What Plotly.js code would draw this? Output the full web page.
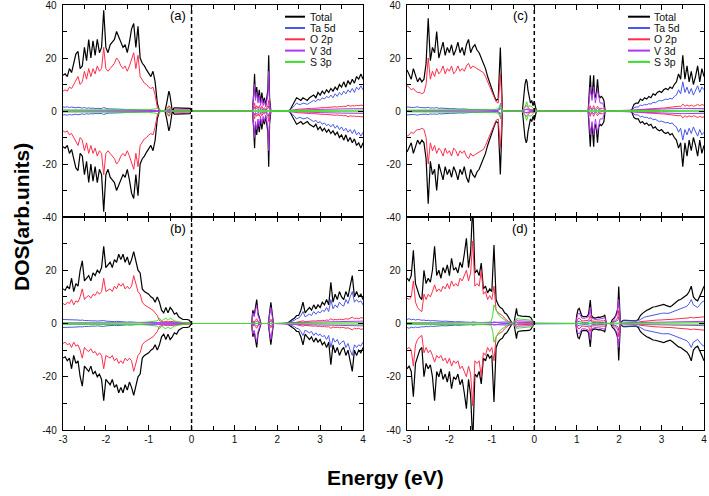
<!DOCTYPE html>
<html><head><meta charset="utf-8">
<script src="https://cdn.plot.ly/plotly-3.0.1.min.js"></script>
<style>html,body{margin:0;padding:0;background:#fff}#chart{width:709px;height:496px}</style>
</head><body><div id="chart"></div>
<script>
// ---------- shared energy grids (eV) ----------
const eVB = [-3,-2.95,-2.9,-2.85,-2.8,-2.75,-2.7,-2.65,-2.6,-2.55,-2.5,-2.45,-2.4,-2.35,-2.3,-2.25,-2.2,-2.15,-2.1,-2.05,-2,-1.95,-1.9,-1.85,-1.8,-1.75,-1.7,-1.65,-1.6,-1.55,-1.5,-1.45,-1.4,-1.35,-1.3,-1.25,-1.2,-1.15,-1.1,-1.05,-1,-0.95,-0.9,-0.85,-0.8,-0.75];
const eCB = [2.2,2.25,2.3,2.35,2.4,2.45,2.5,2.55,2.6,2.65,2.7,2.75,2.8,2.85,2.9,2.95,3,3.05,3.1,3.15,3.2,3.25,3.3,3.35,3.4,3.45,3.5,3.55,3.6,3.65,3.7,3.75,3.8,3.85,3.9,3.95,4];

const seriesNames = ['Total','Ta 5d','O 2p','V 3d','S 3p'];
const panelLabels = ['(a)','(b)','(c)','(d)'];
const xTickVals = [-3,-2,-1,0,1,2,3,4];
const xTickText = ['-3','-2','-1','0','1','2','3','4'];
const yTickValsTop = [-40,-20,0,20,40];
const yTickTextTop = ['-40','-20','0','20','40'];
const yTickValsBot = [-40,-20,0,20];
const yTickTextBot = ['-40','-20','0','20'];

// ---------- panel (a) ----------
const a_vbTotal = [13.5,14,13,16,14.5,18,21.5,22.5,16,17,24,19,27,20,26.5,21,27,22,24,38,24,22,25,26,27,30,28,26,24,25,22,26,31,33,24,32,20,18,17,15.5,14,13,15,11,3,0];
const a_vbTa = [1.5,1.4,1.6,1.3,1.5,1.3,1.2,1.4,1.2,1.1,1.3,1.0,1.2,1.0,1.1,0.9,1.0,0.9,0.9,1.3,0.9,0.8,0.8,0.8,0.7,0.7,0.8,0.6,0.6,0.6,0.5,0.5,0.6,0.5,0.4,0.4,0.4,0.3,0.3,0.3,0.3,0.2,0.2,0.3,0.1,0];
const a_vbO = [7.5,8,7.5,9,8.5,10,12,13,10,11,15,12,16,13,16,14,17,15,16,24,16,15,16,17,18,20,19,17,16,17,15,17,20,22,16,21,13,11.5,10.5,10,9,8.5,9,6,1.5,0];
const a_gapE = [-0.7,-0.62,-0.58,-0.555,-0.53,-0.505,-0.48,-0.45,-0.43,-0.42,-0.40,-0.05,-0.03,-0.02,0.05,1.42,1.45,1.47,1.49,1.52,1.55,1.58,1.61,1.64,1.67,1.70,1.73,1.76,1.78,1.80,1.82,1.85,2.15];
const a_gapTotal = [0,0,3,6,7.5,6,3,0,0,1,1.2,1.2,1,0,0,0,7,14,5,9,4,8,3,7,3,5,2,5,8,21,5,0,0];
const a_gapTa = [0,0,0.3,0.5,0.6,0.5,0.3,0,0,0.1,0.1,0.1,0.1,0,0,0,0.8,1.5,0.6,1,0.5,0.9,0.4,0.8,0.4,0.6,0.3,0.6,0.9,2,0.5,0,0];
const a_gapO = [0,0,0.8,1.5,2,1.5,0.8,0,0,0.3,0.4,0.4,0.3,0,0,0,1.5,3,1,2,1,2,0.8,1.8,0.8,1.2,0.5,1.2,2,4,1,0,0];
const a_cbTotal = [0,0,0.5,2,4,5,4.5,4,5,4.5,4,5,5.5,6,5,7,6,7.5,6.5,8,7,8.5,7.5,9,8,10,9,11,9,11.5,10,12,10.5,13,12,14,12];
const a_cbTa = [0,0,0.3,1,2,3,2.5,2.5,3,2.8,2.5,3,3.5,4,3.5,4.5,4,5,4.5,5.5,5,6,5,6.5,5.5,7,6,7.5,6.5,8,7,8.5,7,9,8,9.5,8];
const a_cbO = [0,0,0.1,0.3,0.5,0.6,0.7,0.7,0.8,0.8,0.9,0.9,1,1,1.1,1.1,1.2,1.2,1.3,1.3,1.4,1.4,1.5,1.6,1.5,1.7,1.6,1.8,1.7,2.2,1.8,2,1.9,2.1,2,2.2,2.1];
const a_vE = [-3,-2,-1,-0.8,-0.55,-0.53,-0.5,-0.4,-0.05,0,1.42,1.45,1.47,1.49,1.52,1.55,1.58,1.61,1.64,1.67,1.70,1.73,1.76,1.78,1.80,1.82,1.85,2.3,2.6,3.0,3.5,4.0];
const a_vY = [0.3,0.3,0.2,0.2,0,0.5,0,0.3,0.3,0,0,5,10,4,7,3,6,2,5,2,4,1.5,4,6,15,3,0,0.3,0.5,0.6,0.8,0.9];
const a_sE = [-3,-2.5,-2,-1.5,-1.2,-1,-0.85,-0.78,-0.75,-0.72,-0.6,-0.55,-0.53,-0.51,-0.45,0,1.45,1.8,2.3,3,4];
const a_sY = [0.3,0.3,0.3,0.3,0.4,0.5,0.8,1.2,0.8,0.2,0,0.8,1.5,0.8,0,0,0.1,0.2,0,0.2,0.3];

// ---------- panel (b) ----------
const b_vbTotal = [13,12.5,14,13,17,12,15,14,20,23.5,16,17,18,16,19,18,20,19,21,29,21,22,23,21,24,23,26,24,26,23,25,22,24,27,24,20,19,13,12,11.5,11,10,9.5,8,10,8];
const b_vbTa = [1.5,1.5,1.4,1.5,1.3,1.4,1.3,1.3,1.2,1.3,1.1,1.2,1.1,1.0,1.1,1.0,0.9,1.0,0.9,1.1,0.9,0.8,0.9,0.8,0.7,0.8,0.7,0.6,0.7,0.6,0.5,0.6,0.5,0.5,0.4,0.4,0.4,0.3,0.3,0.3,0.3,0.2,0.3,0.2,0.2,0.2];
const b_vbO = [7.5,7,8,7.5,9,7,8.5,8,10,13,9,10,10.5,9.5,11,10.5,12,11,12,17,12,12.5,13,12,14,13,15,14,15,13,14,13,14,18,15,12,11,8,7,6.5,6,5.5,5,4,3,1];
const b_gapE = [-0.7,-0.65,-0.6,-0.55,-0.5,-0.45,-0.4,-0.35,-0.3,-0.25,-0.2,-0.15,-0.1,-0.05,0,0.05,1.40,1.43,1.46,1.49,1.52,1.55,1.58,1.62,1.79,1.82,1.85,1.88,1.91,2.15];
const b_gapTotal = [5,4,6,4,6,5,3.5,4,2.5,2,1.5,1.5,1.5,1.2,0,0,0,5,3,6,9,4,2,0,0,4,8,4,0,0];
const b_gapTa = [0.2,0.2,0.3,0.2,0.3,0.2,0.2,0.2,0.1,0.1,0.1,0.1,0.1,0.1,0,0,0,0.5,0.3,0.6,0.9,0.4,0.2,0,0,0.4,0.8,0.4,0,0];
const b_gapO = [0.8,0.6,0.8,0.6,0.8,0.7,0.5,0.5,0.4,0.3,0.3,0.3,0.3,0.2,0,0,0,1,0.6,1.2,1.8,0.8,0.4,0,0,0.8,1.6,0.8,0,0];
const b_cbTotal = [0,0.3,1,1.5,2,3,3,5,8,4,5,6,5,7,5.5,7,6,8,7,9,7,15.5,8,11,9,12,10,9,12,10,14,18,10,12,10,11,9];
const b_cbTa = [0,0.2,0.5,0.8,1.2,1.8,2,3,4.5,2.5,3,3.5,3,4.5,3.5,4.5,4,5,4.5,6,4.5,9,5.5,7,6,8,7,6.5,9,7.5,10,12,8,9,8,8.5,7];
const b_cbO = [0,0,0.1,0.2,0.3,0.5,0.5,0.7,1,0.7,0.8,0.9,0.8,1,0.9,1.1,1,1.2,1.1,1.3,1.2,1.8,1.3,1.5,1.4,1.6,1.5,1.5,1.8,1.6,2,2.4,1.8,2,1.8,2.2,2];
const b_vE = [-3,-2,-1,-0.7,-0.4,0,1.40,1.43,1.46,1.49,1.52,1.55,1.58,1.62,1.79,1.82,1.85,1.88,1.91,2.3,3,4];
const b_vY = [0.2,0.2,0.2,0.3,0.3,0,0,4,2.5,5,7,3,1.5,0,0,3,6,3,0,0.3,0.6,0.9];
const b_sE = [-3,-2,-1.2,-1,-0.8,-0.75,-0.7,-0.65,-0.6,-0.55,-0.5,-0.45,-0.4,-0.3,-0.1,0,2,3,4];
const b_sY = [0.3,0.3,0.4,0.6,1,2,1,1.5,2,1.2,2,1.5,1,0.6,0.3,0,0,0.2,0.3];

// ---------- panel (c) ----------
const c_vbTotal = [15.5,14,12,16,13,11,12.5,11,12,18,35,19,24,22,30,20,23,26,21,24,22,25,21,23,26,22,24,21,25,27,22,24,25,23,22,20,18,16,13,10.5,8.5,6,4,4.5,24,0];
const c_vbTa = [1.5,1.4,1.5,1.3,1.4,1.6,1.3,1.2,1.3,1.2,1.4,1.1,1.2,1.1,1.3,1.0,1.1,1.0,0.9,1.0,0.9,0.9,0.8,0.9,0.8,0.7,0.8,0.7,0.6,0.7,0.6,0.5,0.6,0.5,0.5,0.4,0.4,0.4,0.3,0.3,0.3,0.2,0.2,0.2,1,0];
const c_vbO = [9.5,9,8,8.5,7.5,7,7,6.5,7,10,20,12,15,13,16,14,15,17,14,16,15,17,14,15,17,15,16,15,17,18,16,17,16.5,16,15.5,15,14.5,13,11,9.5,7.5,5.5,3.5,3,14,0];
const c_gapE = [-0.7,-0.28,-0.25,-0.22,-0.19,-0.17,-0.15,-0.12,-0.09,-0.06,-0.03,0,0.02,0.05,1.27,1.30,1.32,1.34,1.36,1.38,1.40,1.42,1.44,1.47,1.49,1.52,1.55,1.58,1.61,1.64,1.67,2.15];
const c_gapTotal = [0,0,5,10,12,11,8,5,3,4,2,3.5,2,0,0,8,13.5,7,5,9,13.5,6,5,8,12,6,5,5.5,5,4,0,0];
const c_gapTa = [0,0,0.3,0.5,0.6,0.5,0.4,0.3,0.2,0.2,0.1,0.2,0.1,0,0,0.6,1,0.5,0.4,0.7,1,0.5,0.4,0.6,0.9,0.5,0.4,0.5,0.4,0.3,0,0];
const c_gapO = [0,0,0.8,1.5,2,1.8,1.2,0.8,0.5,0.6,0.4,0.6,0.3,0,0,1.2,2,1,0.8,1.3,2,1,0.8,1.2,1.8,1,1,1.1,1,0.8,0,0];
const c_cbTotal = [0,0,0.5,2.5,3,3,4.5,4,5,4.5,5.5,5,6.5,6,7,7.5,7,8,8.5,8,9,8.5,10,11,14,12,21,12,17,11,15,10,13,17,11,16,13];
const c_cbTa = [0,0,0.3,1.2,1.5,1.5,2.2,2,2.5,2.3,2.8,2.6,3.3,3.1,3.6,4,3.8,4.3,4.5,4.3,4.8,4.5,5.5,6,8,6.5,11,7,9,6.5,8.5,6,7.5,9.5,7,9,8];
const c_cbO = [0,0,0.1,0.3,0.4,0.5,0.6,0.6,0.7,0.7,0.8,0.8,0.9,0.9,1,1,1.1,1.1,1.2,1.2,1.3,1.3,1.4,1.5,1.8,1.6,2.6,1.8,2.3,1.8,2.2,1.8,2,2.5,2,2.4,2.2];
const c_vE = [-3,-1.5,-0.9,-0.82,-0.79,-0.76,-0.3,-0.17,-0.1,0,1.27,1.30,1.32,1.36,1.40,1.44,1.49,1.55,1.61,1.67,2.3,3,3.5,4];
const c_vY = [0.2,0.2,0.3,0.5,3,0,0,0.8,0.3,0,0,5,9,4,9,3,8,3,3,0,0.3,0.6,1,0.9];
const c_sE = [-3,-2,-1.2,-1,-0.85,-0.8,-0.75,-0.3,-0.22,-0.18,-0.14,-0.1,-0.05,0,0.05,2,3,4];
const c_sY = [0.3,0.3,0.4,0.5,0.8,2.5,0,0,1.5,3.5,1.5,2,1.5,0.5,0,0,0.2,0.3];

// ---------- panel (d) ----------
const d_vbTotal = [17,16,18,27.5,15,12,10,9,20,15,17,15.5,20,29,18,20,17,21,19,22,18,24.5,20,21,19,23,21,26,32,21,27,45,19,20,18,22.7,13,14,11.5,13,12,29.5,9,7,6,5.5];
const d_vbTa = [1.5,1.8,1.4,1.6,1.3,1.5,1.4,1.2,1.3,1.1,1.2,1.0,1.1,1.0,0.9,1.0,0.9,0.8,0.9,0.8,0.7,0.8,0.7,0.6,0.7,0.6,0.5,0.6,0.5,0.5,0.4,0.6,0.4,0.4,0.4,0.4,0.3,0.3,0.3,0.3,0.3,0.6,0.3,0.3,0.2,0.2];
const d_vbO = [9.5,9,10,16,8,6,5,4.5,11,9,11,10,12,14.5,12,13,12,14,13,15,13,16,14,15,14,17,16,18,20,16,19,31,14,15,14,20,11,12,9,10.5,9,14,5,4,3.5,3];
const d_gapE = [-0.70,-0.65,-0.60,-0.55,-0.52,-0.48,-0.46,-0.44,-0.42,-0.40,-0.38,-0.30,-0.20,-0.12,-0.08,-0.04,0,0.05,0.98,1.00,1.03,1.06,1.09,1.12,1.16,1.20,1.24,1.28,1.30,1.32,1.35,1.39,1.43,1.47,1.51,1.55,1.59,1.62,1.64,1.66,1.68,1.70,1.80,1.84,1.88,1.92,1.95,1.97,1.99,2.01,2.03,2.06,2.10,2.15];
const d_gapTotal = [4,3.5,2,0.5,0,0,2,4,5.7,3.5,3,2.8,2.8,2.6,2.2,1.2,0,0,0,3,5.2,5.7,4,2.8,2.6,2.6,2.7,3.5,6,8.8,3,2.2,2,2.3,2.4,2.3,2.4,2.6,2.8,3.2,2,0,0,1.5,2,3,4.5,6,13.9,3,0,0.8,1.2,1.2];
const d_gapTa = [0.3,0.2,0.1,0.05,0,0,0.1,0.2,0.3,0.2,0.2,0.2,0.2,0.2,0.1,0.1,0,0,0,0.4,0.8,0.9,0.6,0.4,0.4,0.4,0.4,0.5,0.9,1.3,0.5,0.3,0.3,0.3,0.4,0.3,0.4,0.4,0.4,0.5,0.3,0,0,0.3,0.4,0.6,0.9,1.2,2.5,0.6,0,0.7,1,1];
const d_gapO = [2,1.2,0.6,0.2,0,0,0.3,0.6,0.8,0.5,0.5,0.4,0.4,0.4,0.3,0.2,0,0,0,1,1.8,2,1.5,1,1,1,1,1.2,2,3,1,0.8,0.8,0.9,0.9,0.9,0.9,1,1,1.2,0.8,0,0,0.6,0.8,1.2,1.8,2.5,5,1,0,0.1,0.2,0.2];
const d_cbTotal = [1.2,1.2,1.2,1.2,1,1.5,3,3.8,4.5,5,5.3,5.8,6.2,6.3,6.5,6.8,7,7.2,6.8,6.5,6.3,6.8,7.5,8.2,8.8,9,9.5,10,10.8,12,14,10,9,8.5,10,12,14];
const d_cbTa = [1,1,1,1,0.8,1,1.5,2,2.4,2.6,2.8,3,3.2,3.4,3.5,3.6,3.8,3.9,3.8,3.8,4,4.3,4.7,5,5.2,5.4,5.7,6,6.5,7.5,9,7,6.5,6,7,8,8.5];
const d_cbO = [0.2,0.2,0.2,0.2,0.2,0.4,0.7,0.8,0.9,1,1.1,1.1,1.2,1.2,1.3,1.3,1.4,1.4,1.4,1.5,1.5,1.6,1.6,1.7,1.8,1.8,1.9,2,2,2.1,2.3,2.1,2.2,2.2,2.3,2.4,2.5];
const d_vE = [-3,-1.5,-1,-0.8,-0.6,-0.48,-0.44,-0.42,-0.38,-0.2,-0.08,0,0.98,1.00,1.03,1.06,1.09,1.12,1.2,1.28,1.30,1.32,1.35,1.43,1.55,1.62,1.66,1.70,1.80,1.88,1.95,1.99,2.03,2.3,3,4];
const d_vY = [0.2,0.2,0.3,0.5,0.6,0,1,1.5,1,0.9,0.8,0,0,2,3.5,4,3,2,2,2.5,4,6,2,1.5,1.7,1.9,2.4,0,0,1.5,3.5,9,0,0.3,0.5,0.8];
const d_sE = [-3,-2,-1.2,-1.02,-0.98,-0.95,-0.9,-0.85,-0.8,-0.72,-0.65,-0.57,-0.5,-0.46,-0.42,-0.3,-0.15,-0.05,0,1,2,2.3,3,4];
const d_sY = [0.3,0.3,0.4,0.6,3,7,5,3.5,2.5,1.5,0.8,0,0,1,1.8,1.6,1.5,1.2,0,0,0,0.1,0.2,0.3];

// ---------- drawing ----------
const W = 709, H = 496;
const px = x => x / W, py = y => 1 - y / H;
const colors = ['#000000','#4a58e8','#ff2d4d','#b535f2','#3fdd2a'];
const widths = [1.2,1,1,1,1];

const panels = [
  {xa:'x', ya:'y', vb:[a_vbTotal,a_vbTa,a_vbO], gE:a_gapE, g:[a_gapTotal,a_gapTa,a_gapO], cb:[a_cbTotal,a_cbTa,a_cbO], vE:a_vE, vY:a_vY, sE:a_sE, sY:a_sY},
  {xa:'x2', ya:'y2', vb:[b_vbTotal,b_vbTa,b_vbO], gE:b_gapE, g:[b_gapTotal,b_gapTa,b_gapO], cb:[b_cbTotal,b_cbTa,b_cbO], vE:b_vE, vY:b_vY, sE:b_sE, sY:b_sY},
  {xa:'x3', ya:'y3', vb:[c_vbTotal,c_vbTa,c_vbO], gE:c_gapE, g:[c_gapTotal,c_gapTa,c_gapO], cb:[c_cbTotal,c_cbTa,c_cbO], vE:c_vE, vY:c_vY, sE:c_sE, sY:c_sY},
  {xa:'x4', ya:'y4', vb:[d_vbTotal,d_vbTa,d_vbO], gE:d_gapE, g:[d_gapTotal,d_gapTa,d_gapO], cb:[d_cbTotal,d_cbTa,d_cbO], vE:d_vE, vY:d_vY, sE:d_sE, sY:d_sY}
];

const traces = [];
panels.forEach(p => {
  const eFull = eVB.concat(p.gE, eCB);
  const series = [
    {x:eFull, y:p.vb[0].concat(p.g[0], p.cb[0])},
    {x:eFull, y:p.vb[1].concat(p.g[1], p.cb[1])},
    {x:eFull, y:p.vb[2].concat(p.g[2], p.cb[2])},
    {x:p.vE, y:p.vY},
    {x:p.sE, y:p.sY}
  ];
  series.forEach((s, i) => {
    [1, -1].forEach(sign => {   // spin up (+) and spin down (-)
      traces.push({
        type:'scatter', mode:'lines', x:s.x, y:s.y.map(v => sign * v),
        xaxis:p.xa, yaxis:p.ya, name:seriesNames[i], showlegend:false, hoverinfo:'skip',
        line:{color:colors[i], width:widths[i]}
      });
    });
  });
});

const tickFont = {family:'Liberation Sans, Arial, sans-serif', size:10, color:'#111'};
function xAxis(domain, anchor, showLabels) {
  return {domain, anchor, range:[-3,4], tickmode:'array', tickvals:xTickVals, ticktext:xTickText,
    showticklabels:showLabels, ticks:'inside', ticklen:5, tickwidth:1, tickcolor:'#000',
    minor:{tickmode:'linear', tick0:0, dtick:0.5, ticks:'inside', ticklen:4, tickcolor:'#000', showgrid:false},
    showline:true, linecolor:'#000', linewidth:1.3, mirror:'ticks', zeroline:false, showgrid:false,
    ticklabeloverflow:'allow', tickfont:tickFont, fixedrange:true};
}
function yAxis(domain, anchor, top) {
  return {domain, anchor, range:[-40,40], tickmode:'array',
    tickvals: top ? yTickValsTop : yTickValsBot, ticktext: top ? yTickTextTop : yTickTextBot,
    ticks:'inside', ticklen:5, tickwidth:1, tickcolor:'#000', ticklabelstandoff:3,
    minor:{tickmode:'linear', tick0:0, dtick:10, ticks:'inside', ticklen:4, tickcolor:'#000', showgrid:false},
    showline:true, linecolor:'#000', linewidth:1.3, mirror:'ticks', zeroline:false, showgrid:false,
    ticklabeloverflow:'allow', tickfont:tickFont, fixedrange:true};
}
const xL = [px(63), px(363)], xR = [px(407), px(704)];
const yT = [py(217), py(5)], yB = [py(430), py(217)];

const shapes = [];
const annotations = [];
[['x','y'],['x2','y2'],['x3','y3'],['x4','y4']].forEach((ax, k) => {
  shapes.push({type:'line', xref:ax[0], yref:ax[1] + ' domain', x0:0, x1:0, y0:0, y1:1,
    line:{color:'#000', width:1.5, dash:'4px,3px'}});
  annotations.push({xref:ax[0], yref:'paper', x:0, xanchor:'right', xshift:-4,
    y: k % 2 === 0 ? py(16) : py(228), yanchor:'middle', showarrow:false,
    text:panelLabels[k], font:{family:'Liberation Sans, Arial, sans-serif', size:13, color:'#000'}});
});

// legends for panels (a) and (c)
[[285, 305, 308], [628, 650, 652]].forEach(L => {
  seriesNames.forEach((nm, i) => {
    const yy = 16.7 + 11.3 * i;
    shapes.push({type:'line', xref:'paper', yref:'paper', x0:px(L[0]), x1:px(L[1]), y0:py(yy), y1:py(yy),
      line:{color:colors[i], width:2}});
    annotations.push({xref:'paper', yref:'paper', x:px(L[2]), y:py(yy), xanchor:'left', yanchor:'middle',
      showarrow:false, text:nm, font:{family:'Liberation Sans, Arial, sans-serif', size:10.5, color:'#111'}});
  });
});

annotations.push({xref:'paper', yref:'paper', x:px(21), y:py(217), textangle:-90, showarrow:false,
  xanchor:'center', yanchor:'middle', text:'<b>DOS(arb.units)</b>',
  font:{family:'Liberation Sans, Arial, sans-serif', size:21, color:'#000'}});
annotations.push({xref:'paper', yref:'paper', x:px(385), y:py(477), showarrow:false,
  xanchor:'center', yanchor:'middle', text:'<b>Energy (eV)</b>',
  font:{family:'Liberation Sans, Arial, sans-serif', size:21, color:'#000'}});

const layout = {
  width:W, height:H, margin:{l:0, r:0, t:0, b:0}, showlegend:false,
  paper_bgcolor:'#fff', plot_bgcolor:'#fff',
  xaxis:xAxis(xL, 'y', false), yaxis:yAxis(yT, 'x', true),
  xaxis2:xAxis(xL, 'y2', true), yaxis2:yAxis(yB, 'x2', false),
  xaxis3:xAxis(xR, 'y3', false), yaxis3:yAxis(yT, 'x3', true),
  xaxis4:xAxis(xR, 'y4', true), yaxis4:yAxis(yB, 'x4', false),
  shapes, annotations
};
Plotly.newPlot('chart', traces, layout, {displayModeBar:false, staticPlot:true});
</script>
</body></html>
